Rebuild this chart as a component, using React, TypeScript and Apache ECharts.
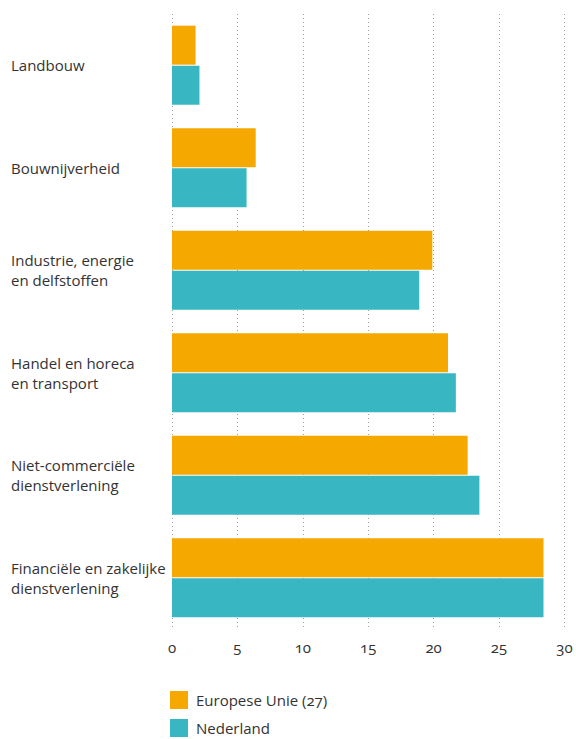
import React, { useEffect, useRef } from "react";
import * as echarts from "echarts";

const categories = [
  "Landbouw",
  "Bouwnijverheid",
  "Industrie, energie\nen delfstoffen",
  "Handel en horeca\nen transport",
  "Niet-commerciële\ndienstverlening",
  "Financiële en zakelijke\ndienstverlening",
];
const euValues = [1.8, 6.4, 19.9, 21.1, 22.6, 28.4];
const nlValues = [2.1, 5.7, 18.9, 21.7, 23.5, 28.4];
const seriesNames = ["Europese Unie (27)", "Nederland"];
const xTicks = [0, 5, 10, 15, 20, 25, 30];

const FONT = "'Open Sans', sans-serif";

export default function App() {
  const ref = useRef<HTMLDivElement>(null);
  useEffect(() => {
    document.body.style.margin = "0";
    const st = document.createElement("style");
    st.textContent = "svg text { font-variant-numeric: oldstyle-nums !important; font-feature-settings: 'onum' 1 !important; }";
    document.head.appendChild(st);
    const chart = echarts.init(ref.current!, null, { renderer: "svg" });
    chart.setOption({
      animation: false,
      backgroundColor: "#ffffff",
      textStyle: { fontFamily: FONT },
      grid: { left: 172, right: 9, top: 14, bottom: 110, containLabel: false },
      legend: {
        orient: "vertical",
        left: 170,
        top: 691,
        padding: 0,
        icon: "rect",
        itemWidth: 18,
        itemHeight: 18,
        itemGap: 10,
        data: seriesNames,
        textStyle: { fontFamily: FONT, fontSize: 15, color: "#333333", padding: [0, 0, 0, 3] },
      },
      xAxis: {
        type: "value",
        min: xTicks[0],
        max: xTicks[xTicks.length - 1],
        interval: 5,
        axisLine: { show: false },
        axisTick: { show: false },
        axisLabel: { fontFamily: FONT, fontSize: 15, color: "#333333", margin: 10 },
        splitLine: { show: true, lineStyle: { type: [1, 3], color: "#a0a0a0", width: 1 } },
      },
      yAxis: {
        type: "category",
        inverse: true,
        data: categories,
        axisLine: { show: false },
        axisTick: { show: false },
        axisLabel: {
          fontFamily: FONT,
          fontSize: 15,
          color: "#333333",
          align: "left",
          margin: 161,
          lineHeight: 20,
          padding: [0, 0, 6, 0],
        },
      },
      series: [
        {
          name: seriesNames[0],
          type: "bar",
          data: euValues,
          barWidth: 39,
          barGap: "3%",
          itemStyle: { color: "#F5A800" },
        },
        {
          name: seriesNames[1],
          type: "bar",
          data: nlValues,
          barWidth: 39,
          barGap: "3%",
          itemStyle: { color: "#38B7C3" },
        },
      ],
    });
    return () => {
      chart.dispose();
      st.remove();
    };
  }, []);
  return <div ref={ref} style={{ width: 576, height: 739 }} />;
}
